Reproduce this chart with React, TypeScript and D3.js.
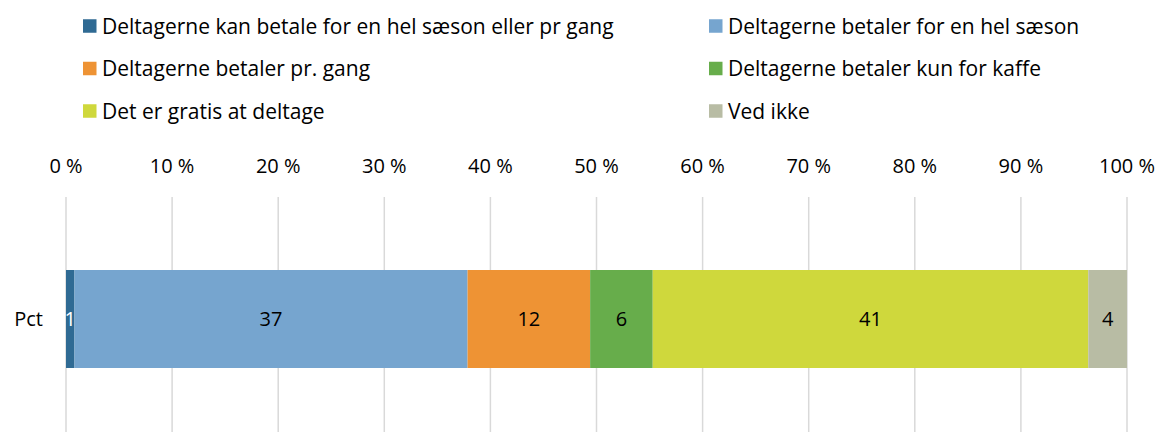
import { useEffect, useRef } from "react"
import * as d3 from "d3"

// series names (legend order = stack order)
const seriesNames = [
  "Deltagerne kan betale for en hel sæson eller pr gang",
  "Deltagerne betaler for en hel sæson",
  "Deltagerne betaler pr. gang",
  "Deltagerne betaler kun for kaffe",
  "Det er gratis at deltage",
  "Ved ikke",
]

// share of answers in percent
const seriesValues = [0.8, 37.05, 11.55, 5.9, 41.05, 3.65]

const seriesColors = ["#2F6A93", "#76A5CF", "#EE9334", "#67AD4B", "#CFD83C", "#B8BCA4"]
const labelColors = ["#ffffff", "#000000", "#000000", "#000000", "#000000", "#000000"]

const categories = ["Pct"]
const tickValues = [0, 10, 20, 30, 40, 50, 60, 70, 80, 90, 100]

const WIDTH = 1159
const HEIGHT = 432
const FONT = "'Open Sans', 'Noto Sans', sans-serif"

export default function App() {
  const svgRef = useRef<SVGSVGElement>(null)

  useEffect(() => {
    if (!svgRef.current) return
    const svg = d3.select(svgRef.current)
    svg.selectAll("*").remove()

    const x = d3.scaleLinear().domain([0, 100]).range([66, 1127])

    // gridlines
    svg.append("g")
      .selectAll("line")
      .data(tickValues)
      .enter()
      .append("line")
      .attr("x1", (d: number) => x(d))
      .attr("x2", (d: number) => x(d))
      .attr("y1", 197)
      .attr("y2", HEIGHT)
      .attr("stroke", "#D9D9D9")
      .attr("stroke-width", 1.5)

    // tick labels on top
    svg.append("g")
      .selectAll("text")
      .data(tickValues)
      .enter()
      .append("text")
      .attr("x", (d: number) => x(d))
      .attr("y", 173)
      .attr("text-anchor", "middle")
      .attr("font-family", FONT)
      .attr("font-size", 20)
      .attr("fill", "#000")
      .text((d: number) => `${d} %`)

    // stacked segments
    const row: Record<string, number> = {}
    seriesNames.forEach((name, i) => (row[name] = seriesValues[i]))
    const stack = d3.stack<Record<string, number>>().keys(seriesNames)([row])

    const barTop = 270
    const barHeight = 98

    const segs = svg.append("g")
      .selectAll("g")
      .data(stack)
      .enter()
      .append("g")

    segs.append("rect")
      .attr("x", (s: any) => x(s[0][0]))
      .attr("width", (s: any) => x(s[0][1]) - x(s[0][0]))
      .attr("y", barTop)
      .attr("height", barHeight)
      .attr("fill", (_: any, i: number) => seriesColors[i])

    segs.append("text")
      .attr("x", (s: any) => (x(s[0][0]) + x(s[0][1])) / 2)
      .attr("y", barTop + barHeight / 2)
      .attr("dy", "0.36em")
      .attr("text-anchor", "middle")
      .attr("font-family", FONT)
      .attr("font-size", 20)
      .attr("fill", (_: any, i: number) => labelColors[i])
      .text((_: any, i: number) => Math.round(seriesValues[i]))

    // category label
    svg.append("text")
      .attr("x", 43)
      .attr("y", barTop + barHeight / 2)
      .attr("dy", "0.36em")
      .attr("text-anchor", "end")
      .attr("font-family", FONT)
      .attr("font-size", 20)
      .attr("fill", "#000")
      .text(categories[0])

    // legend, two columns
    const colX = [83, 709]
    const rowY = [26, 68.5, 111]
    const legend = svg.append("g")
      .selectAll("g")
      .data(seriesNames)
      .enter()
      .append("g")
      .attr("transform", (_: any, i: number) => `translate(${colX[i % 2]},${rowY[Math.floor(i / 2)]})`)

    legend.append("rect")
      .attr("x", 0)
      .attr("y", -6.75)
      .attr("width", 13.5)
      .attr("height", 13.5)
      .attr("fill", (_: any, i: number) => seriesColors[i])

    legend.append("text")
      .attr("x", 19)
      .attr("y", 0)
      .attr("dy", "0.36em")
      .attr("font-family", FONT)
      .attr("font-size", 21)
      .attr("fill", "#000")
      .text((d: string) => d)
  }, [])

  return (
    <svg
      ref={svgRef}
      width={WIDTH}
      height={HEIGHT}
      style={{ position: "absolute", left: 0, top: 0, background: "#fff" }}
    />
  )
}
